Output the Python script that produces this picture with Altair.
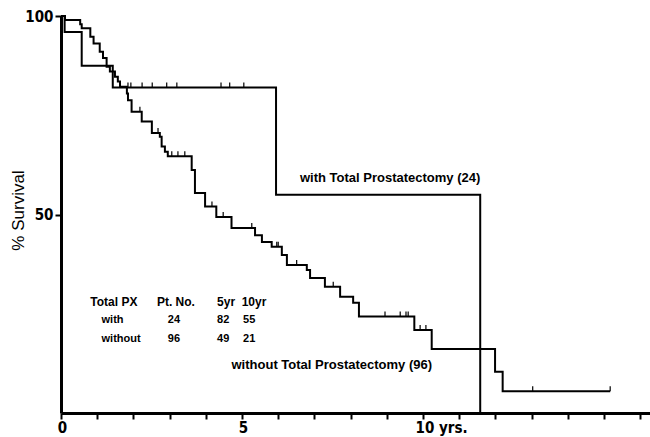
import altair as alt
import pandas as pd

# ---- data (years, % survival) ----
with_t = [0, 0.10, 0.572, 1.43, 5.94, 11.58]
with_s = [100, 96, 87.5, 82, 55, 0]
with_cens_t = [1.85, 1.93, 2.24, 2.52, 2.92, 3.20, 4.42, 4.66, 5.05]
with_cens_s = [82, 82, 82, 82, 82, 82, 82, 82, 82]

without_t = [0, 0.11, 0.53, 0.572, 0.81, 0.9, 1.07, 1.16, 1.26, 1.35, 1.49, 1.57, 1.63,
             1.82, 1.85, 1.95, 2.23, 2.51, 2.73, 2.78, 2.87, 2.95, 3.61, 3.70, 3.98, 4.29,
             4.71, 5.36, 5.55, 5.82, 6.10, 6.24, 6.79, 6.88, 7.29, 7.71, 8.07, 8.23, 9.76,
             10.24, 11.99, 12.20, 15.17]
without_s = [100, 99, 97.9, 96.9, 94.8, 93.1, 91, 89.4, 87.2, 86, 84.7, 83.5, 82.2,
             80.5, 78.8, 75.9, 73.4, 70.5, 69.6, 67.1, 65.8, 64.7, 61.2, 55.4, 52, 49.4,
             46.6, 44.8, 43.1, 41.9, 39.8, 37.3, 36, 34, 31.8, 29.3, 27.8, 24.3, 20.9,
             16.1, 10.4, 5.5, 5.5]
without_cens_t = [2.18, 2.68, 3.06, 3.23, 3.42, 4.17, 4.48, 5.27, 5.96, 6.0, 6.51, 7.52,
                  8.95, 9.37, 9.53, 9.59, 9.92, 10.08, 13.03, 15.17]
without_cens_s = [75.9, 70.5, 64.7, 64.7, 64.7, 52, 49.4, 46.6, 41.9, 41.9, 37.3, 31.8,
                  24.3, 24.3, 24.3, 24.3, 20.9, 20.9, 5.5, 5.5]

x_ticks = list(range(17))
y_ticks = [50, 100]

label_with = "with Total Prostatectomy (24)"
label_without = "without Total Prostatectomy (96)"

table_header = ["Total PX", "Pt. No.", "5yr", "10yr"]
table_groups = ["with", "without"]
table_pts = [24, 96]
table_5yr = [82, 49]
table_10yr = [55, 21]

# ---- layout of annotations (data coordinates) ----
header_cols = [0.81, 2.65, 4.31, 4.99]
row_cols = [1.12, 2.95, 4.31, 5.03]
row_levels = [28.0, 23.3, 18.6]

curves = pd.concat([
    pd.DataFrame({"t": with_t, "s": with_s, "g": "with"}),
    pd.DataFrame({"t": without_t, "s": without_s, "g": "without"}),
])
cens = pd.concat([
    pd.DataFrame({"t": with_cens_t, "s": with_cens_s}),
    pd.DataFrame({"t": without_cens_t, "s": without_cens_s}),
])

labels_df = pd.DataFrame({"text": [label_with, label_without],
                          "t": [6.60, 4.71], "s": [59.3, 12.1]})

header_df = pd.DataFrame({"text": table_header, "t": header_cols,
                          "s": [row_levels[0]] * 4})
rows = []
for i, g in enumerate(table_groups):
    vals = [g, str(table_pts[i]), str(table_5yr[i]), str(table_10yr[i])]
    for j, v in enumerate(vals):
        rows.append({"text": v, "t": row_cols[j], "s": row_levels[i + 1]})
rows_df = pd.DataFrame(rows)

W, H = 589, 397
xs = alt.Scale(domain=[0, 16.27], nice=False, zero=False)
ys = alt.Scale(domain=[0, 100], nice=False)

AX_FONT = "Liberation Sans Narrow, DejaVu Sans Condensed, Liberation Sans, sans-serif"
TXT_FONT = "Liberation Sans, Arial, sans-serif"

x_axis = alt.Axis(
    values=x_ticks, title=None, grid=False,
    labelExpr="datum.value==0?'0':datum.value==5?'5':datum.value==10?'10 yrs.':''",
    labelAlign={"condition": {"test": "datum.value == 10", "value": "left"}, "value": "center"},
    labelOffset={"condition": {"test": "datum.value == 10", "value": -8}, "value": 1},
    labelOverlap=False, labelFlush=False, labelBound=False,
    labelFont=AX_FONT, labelFontSize=15,
    labelFontWeight="bold", labelColor="black", labelPadding=1,
    tickSize=6, tickWidth=2, tickColor="black",
    domainWidth=3, domainColor="black")
y_axis = alt.Axis(
    values=y_ticks, title="% Survival", grid=False,
    labelOverlap=False, labelFlush=False,
    labelFont=AX_FONT, labelFontSize=15, labelFontWeight="bold",
    labelColor="black", labelPadding=2,
    tickSize=6, tickWidth=2, tickColor="black",
    domainWidth=3, domainColor="black",
    titleFont=TXT_FONT, titleFontSize=17, titleFontWeight="normal",
    titleColor="black", titleAngle=-90, titleX=-43, titleY=194,
    titleAlign="center", titleBaseline="middle")

xe = alt.X("t:Q", scale=xs, axis=x_axis)
ye = alt.Y("s:Q", scale=ys, axis=y_axis)

lines = alt.Chart(curves).mark_line(
    interpolate="step-after", color="black", strokeWidth=2
).encode(x=xe, y=ye, detail="g:N")

ticks = alt.Chart(cens).mark_point(
    shape="M0,0L0,-1", size=100, filled=False, color="black", strokeWidth=1.2, opacity=1
).encode(x=xe, y=ye)

labels = alt.Chart(labels_df).mark_text(
    align="left", baseline="middle", font=TXT_FONT, fontSize=13,
    fontWeight="bold", color="black"
).encode(x=xe, y=ye, text="text:N")

header = alt.Chart(header_df).mark_text(
    align="left", baseline="middle", font=TXT_FONT, fontSize=12,
    fontWeight="bold", color="black"
).encode(x=xe, y=ye, text="text:N")

body = alt.Chart(rows_df).mark_text(
    align="left", baseline="middle", font=TXT_FONT, fontSize=11,
    fontWeight="bold", color="black"
).encode(x=xe, y=ye, text="text:N")

chart = alt.layer(lines, ticks, labels, header, body).properties(
    width=W, height=H,
    autosize=alt.AutoSizeParams(type="none"),
    padding={"left": 61, "top": 16, "right": 0, "bottom": 24},
    background="white",
).configure_view(stroke=None).configure_axis(labelOverlap=False)

chart.save("out.html", embed_options={"renderer": "svg", "actions": False})
